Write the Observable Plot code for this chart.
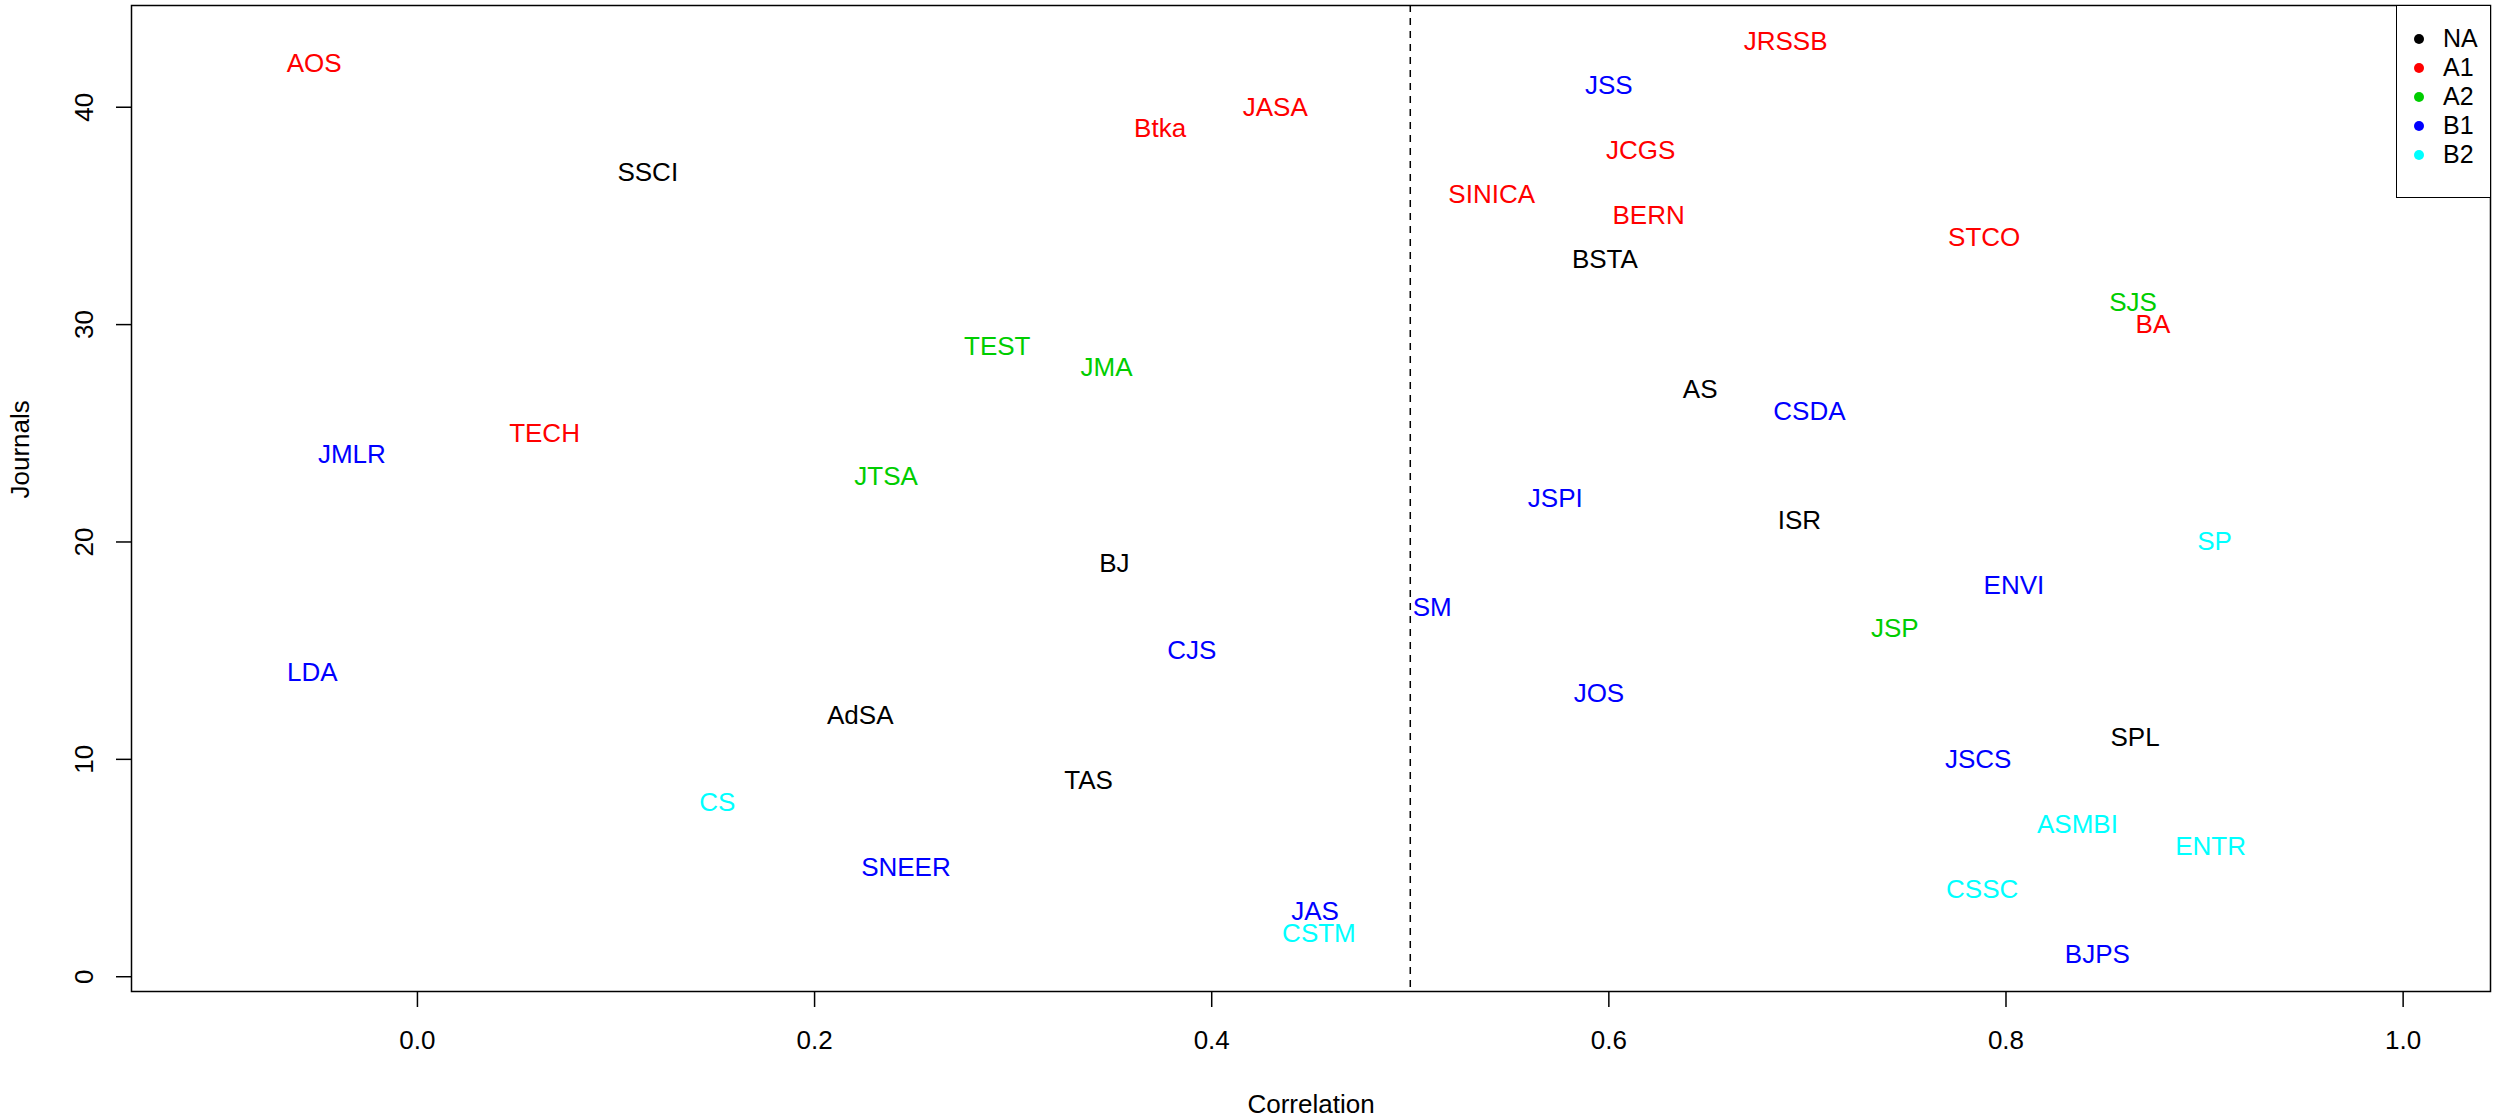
<!DOCTYPE html>
<html>
<head>
<meta charset="utf-8">
<script src="https://cdn.jsdelivr.net/npm/d3@7"></script>
<script src="https://cdn.jsdelivr.net/npm/@observablehq/plot@0.6"></script>
<style>
  html, body { margin: 0; padding: 0; background: #fff; }
  #wrap { position: relative; width: 2503px; height: 1119px; font-family: "Liberation Sans", Arial, Helvetica, sans-serif; }
  #legend { position: absolute; left: 2396px; top: 5px; width: 95px; height: 193px; border: 1.5px solid #000; box-sizing: border-box; background: #fff; }
  .lg-dot { position: absolute; width: 10px; height: 10px; border-radius: 50%; }
  .lg-txt { position: absolute; font-size: 25px; line-height: 25px; color: #000; }
</style>
</head>
<body>
<div id="wrap"></div>
<script>
// ---- data ----
const journals = ["AOS","JRSSB","JSS","JASA","Btka","JCGS","SSCI","SINICA","BERN","STCO","BSTA",
  "SJS","BA","TEST","JMA","AS","CSDA","TECH","JMLR","JTSA","JSPI","ISR","SP","BJ","ENVI","SM",
  "JSP","CJS","LDA","JOS","AdSA","SPL","JSCS","TAS","CS","ASMBI","ENTR","SNEER","CSSC","JAS","CSTM","BJPS"];
const correlation = [-0.052,0.689,0.600,0.432,0.374,0.616,0.116,0.541,0.620,0.789,0.598,
  0.864,0.874,0.292,0.347,0.646,0.701,0.064,-0.033,0.236,0.573,0.696,0.905,0.351,0.804,0.511,
  0.744,0.390,-0.053,0.595,0.223,0.865,0.786,0.338,0.151,0.836,0.903,0.246,0.788,0.452,0.454,0.846];
const rank = [42,43,41,40,39,38,37,36,35,34,33,
  31,30,29,28,27,26,25,24,23,22,21,20,19,18,17,
  16,15,14,13,12,11,10,9,8,7,6,5,4,3,2,1];
const group = ["A1","A1","B1","A1","A1","A1","NA","A1","A1","A1","NA",
  "A2","A1","A2","A2","NA","B1","A1","B1","A2","B1","NA","B2","NA","B1","B1",
  "A2","B1","B1","B1","NA","NA","B1","NA","B2","B2","B2","B1","B2","B1","B2","B1"];
const groupNames = ["NA","A1","A2","B1","B2"];
const groupColors = ["#000000","#FF0000","#00CD00","#0000FF","#00FFFF"];
const xTicks = [0, 0.2, 0.4, 0.6, 0.8, 1.0];
const yTicks = [0, 10, 20, 30, 40];
const cutoff = [0.5];
const xTitle = "Correlation";
const yTitle = "Journals";

const table = journals.map((j, i) => ({journal: j, corr: correlation[i], rank: rank[i], group: group[i]}));

const chart = Plot.plot({
  width: 2503,
  height: 1119,
  marginLeft: 131,
  marginRight: 13,
  marginTop: 5,
  marginBottom: 128,
  style: {background: "#fff", fontFamily: "Liberation Sans, Arial, Helvetica, sans-serif", fontSize: "26px", color: "#000"},
  x: {domain: [-0.144, 1.044]},
  y: {domain: [-0.68, 44.68]},
  color: {type: "ordinal", domain: groupNames, range: groupColors},
  marks: [
    Plot.ruleX(cutoff, {stroke: "#000", strokeWidth: 1.5, strokeDasharray: "7,6"}),
    Plot.text(table, {x: "corr", y: "rank", text: "journal", fill: "group", fontSize: 26, lineAnchor: "middle"}),
    Plot.axisX({ticks: xTicks, tickFormat: d3.format(".1f"), tickSize: 16, tickPadding: 23, fontSize: 26, label: null, strokeWidth: 1.5}),
    Plot.axisY({ticks: yTicks, tickFormat: () => "", tickSize: 15, label: null, strokeWidth: 1.5}),
    Plot.text(yTicks, {y: d => d, text: d => String(d), frameAnchor: "left", dx: -47, rotate: -90, fontSize: 26, textAnchor: "middle", lineAnchor: "middle"}),
    Plot.text([xTitle], {text: d => d, frameAnchor: "bottom", dy: 113, fontSize: 26, lineAnchor: "middle"}),
    Plot.text([yTitle], {text: d => d, frameAnchor: "left", dx: -111, rotate: -90, fontSize: 26, lineAnchor: "middle"}),
    Plot.frame({stroke: "#000", strokeWidth: 1.5})
  ]
});

const wrap = document.getElementById("wrap");
wrap.appendChild(chart);

// legend inside the plot's top-right corner
const lg = document.createElement("div");
lg.id = "legend";
groupNames.forEach((g, i) => {
  const cy = 33 + i * 29;
  const dot = document.createElement("div");
  dot.className = "lg-dot";
  dot.style.left = (22 - 5) + "px";
  dot.style.top = (cy - 5) + "px";
  dot.style.background = groupColors[i];
  lg.appendChild(dot);
  const t = document.createElement("div");
  t.className = "lg-txt";
  t.style.left = "46px";
  t.style.top = (cy - 13) + "px";
  t.textContent = g;
  lg.appendChild(t);
});
wrap.appendChild(lg);
</script>
</body>
</html>
